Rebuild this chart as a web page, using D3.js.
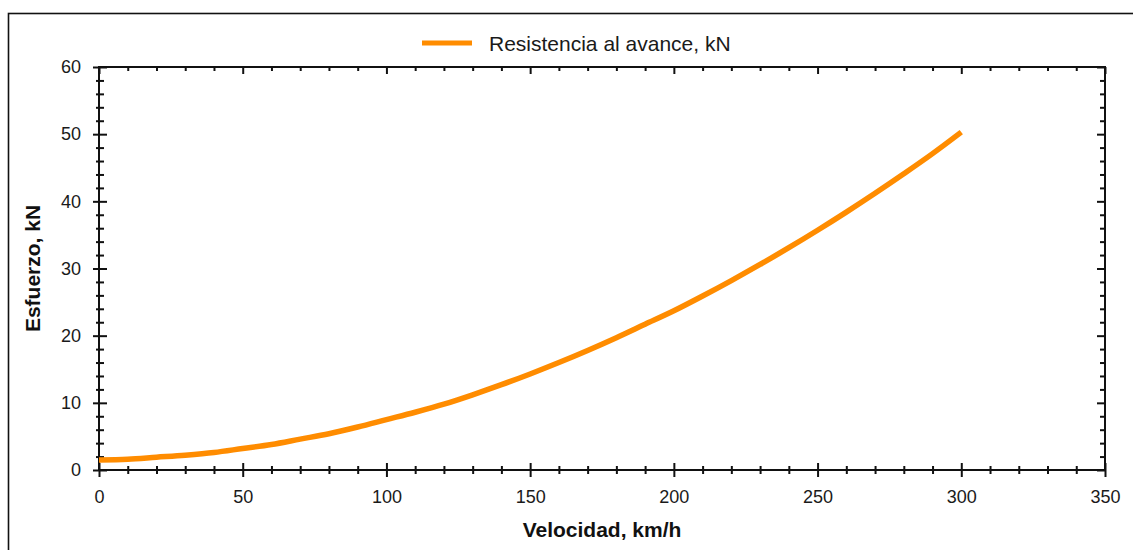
<!DOCTYPE html>
<html>
<head>
<meta charset="utf-8">
<script src="https://cdn.jsdelivr.net/npm/d3@7"></script>
<style>
  body { margin: 0; background: #fff; }
  svg { display: block; font-family: "Liberation Sans", Arial, sans-serif; }
  .tick text { fill: #1a1a1a; }
</style>
</head>
<body>
<script>
var w = 1133;
var h = 550;

// speed (km/h) and running resistance (kN)
var velocidad = [0, 10, 20, 30, 40, 50, 60, 70, 80, 90, 100, 110, 120, 130, 140, 150,
                 160, 170, 180, 190, 200, 210, 220, 230, 240, 250, 260, 270, 280, 290, 300];
var resistencia = [1.5, 1.6, 1.9, 2.2, 2.6, 3.2, 3.8, 4.6, 5.4, 6.4, 7.5, 8.6, 9.8, 11.2, 12.7, 14.3,
                   16.0, 17.8, 19.7, 21.7, 23.7, 25.9, 28.2, 30.6, 33.1, 35.7, 38.4, 41.2, 44.1, 47.1, 50.3];

var xMajor = [0, 50, 100, 150, 200, 250, 300, 350];
var yMajor = [0, 10, 20, 30, 40, 50, 60];

var serieName = "Resistencia al avance, kN";
var xTitle = "Velocidad, km/h";
var yTitle = "Esfuerzo, kN";

var dataset = velocidad.map(function(v, i) { return { v: v, r: resistencia[i] }; });

// plot box (note: "top" is taken by window.top)
var pL = 99, pR = 1105, pT = 67, pB = 470;

var svg = d3.select("body")
    .append("svg")
    .attr("width", w)
    .attr("height", h);

// outer frame (runs off the right and bottom edges)
svg.append("rect")
    .attr("x", 8.5)
    .attr("y", 13.5)
    .attr("width", 1200)
    .attr("height", 600)
    .attr("fill", "none")
    .attr("stroke", "#111")
    .attr("stroke-width", 1.6);

var xScale = d3.scaleLinear().domain([0, 350]).range([pL, pR]);
var yScale = d3.scaleLinear().domain([0, 60]).range([pB, pT]);

var xMinor = d3.range(0, 351, 10).filter(function(d) { return d % 50 != 0; });
var yMinor = d3.range(0, 61, 2).filter(function(d) { return d % 10 != 0; });

// plot frame
svg.append("rect")
    .attr("x", pL)
    .attr("y", pT)
    .attr("width", pR - pL)
    .attr("height", pB - pT)
    .attr("fill", "none")
    .attr("stroke", "#111")
    .attr("stroke-width", 2);

function tickStyle(g, a, b, horiz) {
  g.select(".domain").remove();
  g.selectAll(".tick line")
      .attr("stroke", "#111")
      .attr("stroke-width", 2)
      .attr(horiz ? "x1" : "y1", a)
      .attr(horiz ? "x2" : "y2", b);
}

// bottom axis: labels + crossing ticks
var gx = svg.append("g").attr("transform", "translate(0," + pB + ")");
gx.append("g").call(d3.axisBottom(xScale).tickValues(xMinor).tickFormat(""))
    .call(tickStyle, -4, 4, false);
gx.append("g").call(d3.axisBottom(xScale).tickValues(xMajor).tickFormat(d3.format("d")))
    .call(tickStyle, -7, 7, false)
    .selectAll("text")
    .attr("y", 20)
    .attr("dy", "0.71em")
    .attr("font-size", 18)
    .attr("font-family", "Liberation Sans, Arial, sans-serif");

// top axis: inward ticks
var gt = svg.append("g").attr("transform", "translate(0," + pT + ")");
gt.append("g").call(d3.axisTop(xScale).tickValues(xMinor).tickFormat(""))
    .call(tickStyle, 0, 4, false);
gt.append("g").call(d3.axisTop(xScale).tickValues(xMajor).tickFormat(""))
    .call(tickStyle, 0, 7, false);

// left axis
var gy = svg.append("g").attr("transform", "translate(" + pL + ",0)");
gy.append("g").call(d3.axisLeft(yScale).tickValues(yMinor).tickFormat(""))
    .call(tickStyle, -3, 5, true);
gy.append("g").call(d3.axisLeft(yScale).tickValues(yMajor).tickFormat(d3.format("d")))
    .call(tickStyle, -6, 8, true)
    .selectAll("text")
    .attr("x", -18)
    .attr("font-size", 18)
    .attr("font-family", "Liberation Sans, Arial, sans-serif");

// right axis: inward ticks
var gr = svg.append("g").attr("transform", "translate(" + pR + ",0)");
gr.append("g").call(d3.axisRight(yScale).tickValues(yMinor).tickFormat(""))
    .call(tickStyle, -5, 0, true);
gr.append("g").call(d3.axisRight(yScale).tickValues(yMajor).tickFormat(""))
    .call(tickStyle, -8, 0, true);

// curve
var line = d3.line()
    .x(function(d) { return xScale(d.v); })
    .y(function(d) { return yScale(d.r); })
    .curve(d3.curveMonotoneX);

svg.append("path")
    .datum(dataset)
    .attr("fill", "none")
    .attr("stroke", "#ff8c00")
    .attr("stroke-width", 5.5)
    .attr("d", line);

// legend
svg.append("line")
    .attr("x1", 422)
    .attr("x2", 472)
    .attr("y1", 43)
    .attr("y2", 43)
    .attr("stroke", "#ff8c00")
    .attr("stroke-width", 5);

svg.append("text")
    .attr("x", 489)
    .attr("y", 51)
    .attr("font-size", 21)
    .attr("fill", "#1a1a1a")
    .text(serieName);

// axis titles
svg.append("text")
    .attr("x", (pL + pR) / 2)
    .attr("y", 537)
    .attr("text-anchor", "middle")
    .attr("font-size", 21)
    .attr("font-weight", "bold")
    .attr("fill", "#111")
    .text(xTitle);

svg.append("text")
    .attr("transform", "translate(40," + ((pT + pB) / 2) + ") rotate(-90)")
    .attr("text-anchor", "middle")
    .attr("font-size", 21)
    .attr("font-weight", "bold")
    .attr("fill", "#111")
    .text(yTitle);
</script>
</body>
</html>
